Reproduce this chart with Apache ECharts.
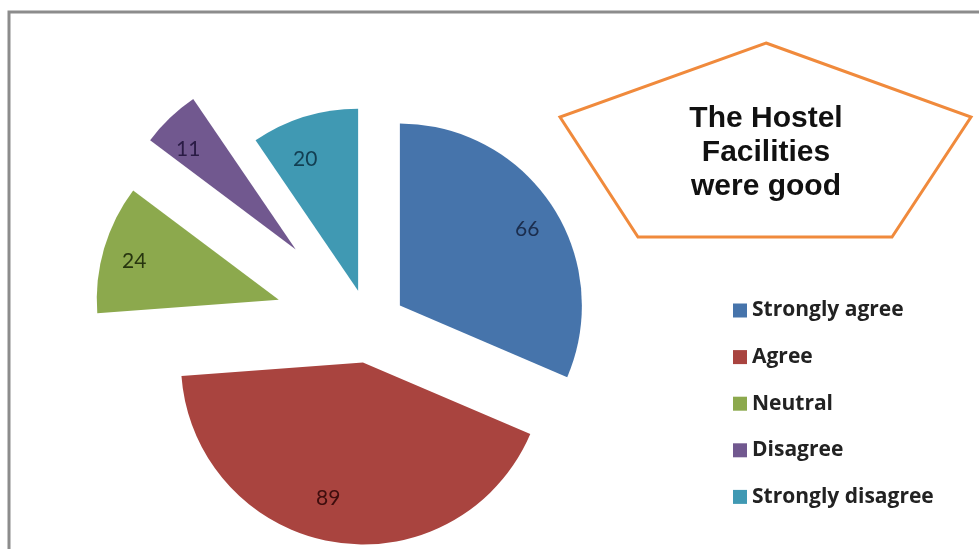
<!DOCTYPE html>
<html>
<head>
<meta charset="utf-8">
<script src="https://cdn.jsdelivr.net/npm/echarts@6/dist/echarts.min.js"></script>
<style>
  html, body { margin: 0; padding: 0; background: #fff; }
  #chart { width: 979px; height: 549px; }
</style>
</head>
<body>
<div id="chart"></div>
<script>
// data
const categories = ['Strongly agree', 'Agree', 'Neutral', 'Disagree', 'Strongly disagree'];
const values = [66, 89, 24, 11, 20];
const titleLines = ['The Hostel', 'Facilities', 'were good'];

const colors = ['#4674AB', '#A9443F', '#8CA94D', '#71588F', '#4099B3'];
const labelColors = ['#1B2D4D', '#3E0D0D', '#27350F', '#2A1B45', '#123E52'];

// how far each slice is pulled out of the pie
const explode = [
    { offset: 37, members: [0, 1, 4] },
    { offset: 94, members: [2] },
    { offset: 106, members: [3] }
];

const myCharts = echarts.init(document.getElementById('chart'));

// one pie per explode group, slices of other groups stay invisible
let buildSeries = (group) => ({
    type: 'pie',
    center: [369, 326],
    radius: 182,
    startAngle: 90,
    clockwise: true,
    selectedMode: 'multiple',
    selectedOffset: group.offset,
    avoidLabelOverlap: false,
    silent: true,
    animation: false,
    label: {
        show: true,
        position: 'outside',
        alignTo: 'none',
        distanceToLabelLine: 0,
        formatter: '{c}',
        fontFamily: 'Lato',
        fontSize: 21
    },
    labelLine: { show: false, length: -44, length2: 0 },
    data: categories.map((name, i) => {
        const on = group.members.indexOf(i) >= 0;
        return {
            name: name,
            value: values[i],
            selected: on,
            itemStyle: { color: colors[i], opacity: on ? 1 : 0 },
            label: { show: on, color: labelColors[i] }
        };
    })
});

const option = {
    backgroundColor: '#fff',
    legend: {
        orient: 'vertical',
        left: 728,
        top: 295,
        icon: 'rect',
        itemWidth: 14,
        itemHeight: 14,
        itemGap: 25.6,
        selectedMode: false,
        textStyle: {
            fontFamily: 'Open Sans',
            fontWeight: 'bold',
            fontSize: 21,
            color: '#222'
        },
        data: categories.map((name, i) => ({
            name: name,
            itemStyle: { color: colors[i], opacity: 1 }
        }))
    },
    graphic: [
        {
            type: 'polyline',
            shape: { points: [[9, 549], [9, 12], [979, 12]] },
            style: { stroke: '#8c8c8c', lineWidth: 3, fill: null }
        },
        {
            type: 'polygon',
            shape: { points: [[766, 43], [971, 117], [892, 237], [638, 237], [560, 117]] },
            style: { stroke: '#F08A3C', lineWidth: 3, fill: '#fff' }
        },
        {
            type: 'text',
            x: 766,
            y: 153,
            style: {
                text: titleLines.join('\n'),
                align: 'center',
                verticalAlign: 'middle',
                fontFamily: 'Liberation Sans',
                fontWeight: 'bold',
                fontSize: 30,
                lineHeight: 34,
                fill: '#111'
            }
        }
    ],
    series: explode.map(buildSeries)
};

myCharts.setOption(option);
</script>
</body>
</html>
